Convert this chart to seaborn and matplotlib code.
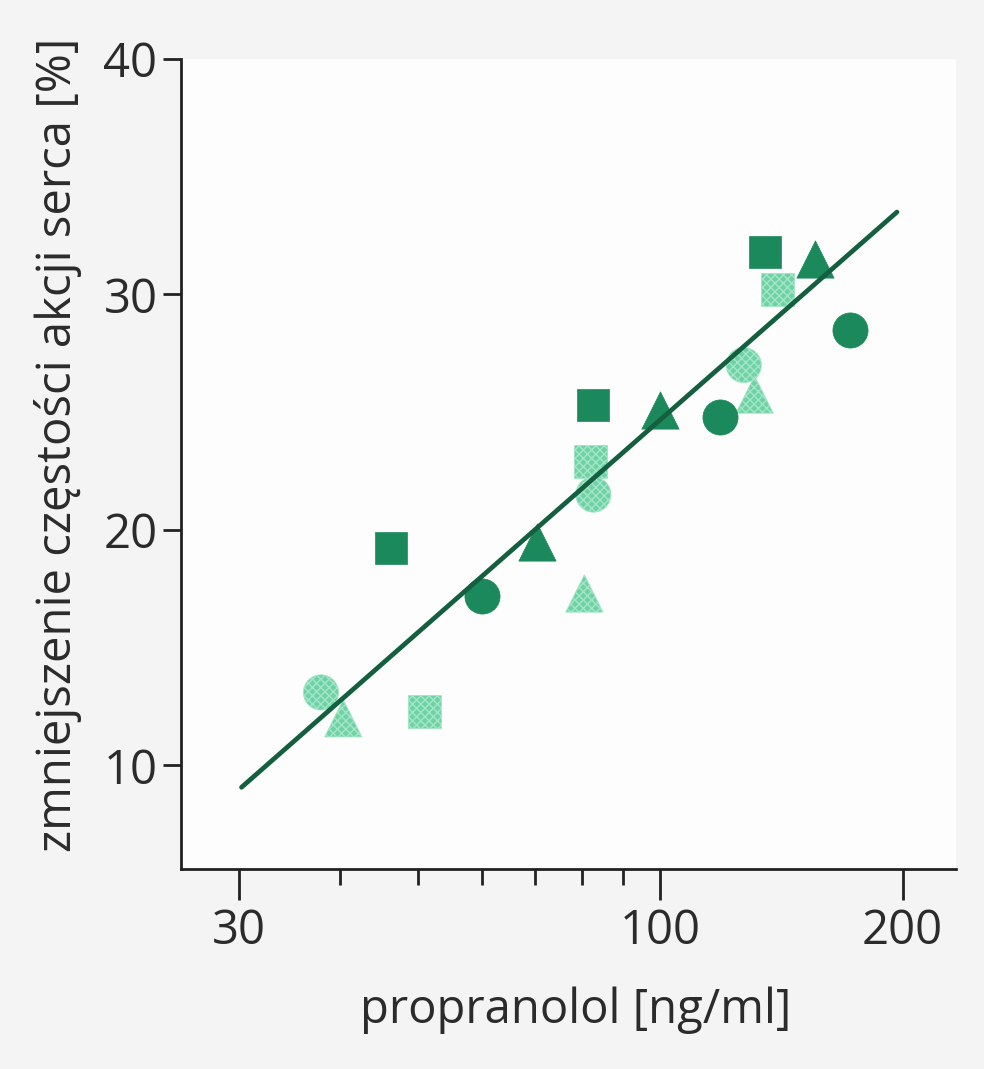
import matplotlib
matplotlib.use("Agg")
import matplotlib.pyplot as plt
from matplotlib import font_manager
from matplotlib.ticker import FixedLocator, FixedFormatter, NullFormatter
import seaborn as sns
import pandas as pd

# ---------------- data ----------------
dark_sq_x = [46.3, 82.6, 135.0]
dark_sq_y = [19.25, 25.3, 31.8]
dark_ci_x = [60.0, 118.5, 172.0]
dark_ci_y = [17.2, 24.8, 28.5]
dark_tr_x = [70.3, 100.0, 155.6]
dark_tr_y = [19.5, 25.1, 31.5]
light_sq_x = [51.0, 82.0, 140.0]
light_sq_y = [12.3, 22.9, 30.2]
light_ci_x = [37.9, 82.6, 127.0]
light_ci_y = [13.1, 21.5, 27.0]
light_tr_x = [40.4, 80.5, 131.0]
light_tr_y = [12.0, 17.3, 25.75]
fit_x = [30.2, 196.8]
fit_y = [9.07, 33.5]

x_major_ticks = [30, 100, 200]
x_minor_ticks = [40, 50, 60, 70, 80, 90]
y_ticks = [10, 20, 30, 40]
x_label = "propranolol [ng/ml]"
y_label = "zmniejszenie częstości akcji serca [%]"

# ---------------- style ----------------
sns.set_theme(style="ticks")
avail = {f.name for f in font_manager.fontManager.ttflist}
if "Liberation Sans Narrow" in avail:
    fam, fs = "Liberation Sans Narrow", 42
elif "DejaVu Sans Condensed" in avail:
    fam, fs = "DejaVu Sans Condensed", 36
else:
    fam, fs = "Open Sans", 34
plt.rcParams["font.family"] = [fam, "DejaVu Sans"]
txt = "#2b2b2b"

fig = plt.figure(figsize=(9.84, 10.69), dpi=100, facecolor="#f3f4f3")
ax = fig.add_axes([181 / 984, 1 - 869 / 1069, (956 - 181) / 984, (869 - 59) / 1069])
ax.set_facecolor("#fdfdfd")

rows = []
for shade, shape, xs, ys in [
    ("dark", "square", dark_sq_x, dark_sq_y),
    ("dark", "circle", dark_ci_x, dark_ci_y),
    ("dark", "triangle", dark_tr_x, dark_tr_y),
    ("light", "square", light_sq_x, light_sq_y),
    ("light", "circle", light_ci_x, light_ci_y),
    ("light", "triangle", light_tr_x, light_tr_y),
]:
    for x, y in zip(xs, ys):
        rows.append({"x": x, "y": y, "shade": shade, "shape": shape})
df = pd.DataFrame(rows)

markers = {"square": "s", "circle": "o", "triangle": "^"}
sizes = {"square": 560, "circle": 640, "triangle": 720}

for shape in ["square", "circle", "triangle"]:
    sub = df[(df.shade == "light") & (df["shape"] == shape)]
    sns.scatterplot(data=sub, x="x", y="y", marker=markers[shape], s=sizes[shape],
                    color="#6fd2a7", edgecolor="#a3e6c6", linewidth=0.6,
                    hatch="xxxx", legend=False, ax=ax, zorder=3)
for shape in ["square", "circle", "triangle"]:
    sub = df[(df.shade == "dark") & (df["shape"] == shape)]
    sns.scatterplot(data=sub, x="x", y="y", marker=markers[shape], s=sizes[shape],
                    color="#1b895b", edgecolor="#1b895b", linewidth=0.5,
                    legend=False, ax=ax, zorder=3)

sns.lineplot(x=fit_x, y=fit_y, color="#145f40", linewidth=3.4, ax=ax, zorder=4)

ax.set_xscale("log")
ax.set_xlim(25.4, 233)
ax.set_ylim(5.6, 40)
ax.xaxis.set_major_locator(FixedLocator(x_major_ticks))
ax.xaxis.set_major_formatter(FixedFormatter([str(t) for t in x_major_ticks]))
ax.xaxis.set_minor_locator(FixedLocator(x_minor_ticks))
ax.xaxis.set_minor_formatter(NullFormatter())
ax.set_yticks(y_ticks)
ax.set_yticklabels([str(t) for t in y_ticks])

for side in ["top", "right"]:
    ax.spines[side].set_visible(False)
for side in ["left", "bottom"]:
    ax.spines[side].set_linewidth(2.0)
    ax.spines[side].set_color("#222222")

ax.tick_params(axis="x", which="major", length=22, width=2, direction="out",
               colors="#222222", labelsize=fs, labelcolor=txt, pad=6)
ax.tick_params(axis="x", which="minor", length=11.5, width=2, direction="out", colors="#222222")
ax.tick_params(axis="y", which="major", length=13, width=2, direction="out",
               colors="#222222", labelsize=fs, labelcolor=txt, pad=4)

ax.set_xlabel(x_label, fontsize=fs, color=txt)
ax.set_ylabel(y_label, fontsize=fs, color=txt)
ax.xaxis.set_label_coords((576 - 181) / 775, -(986 - 869) / 810)
ax.yaxis.set_label_coords(-(181 - 82) / 775, (869 - 445) / 810)

fig.savefig("out.png", dpi=100, facecolor=fig.get_facecolor())
